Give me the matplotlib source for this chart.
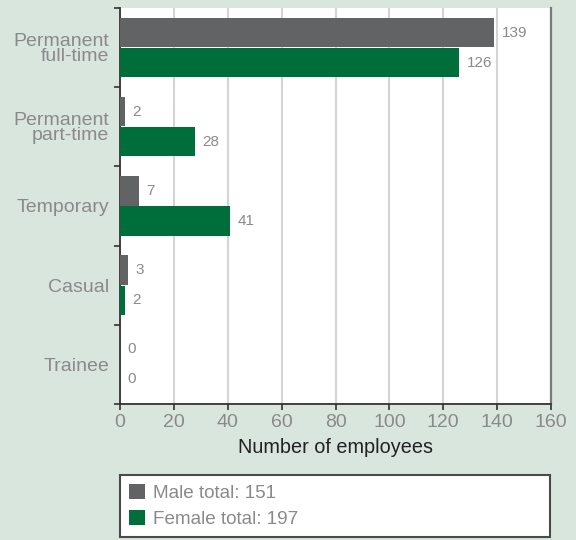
import matplotlib
matplotlib.use("Agg")
import matplotlib.pyplot as plt
from matplotlib.patches import Patch
import numpy as np

categories = ["Permanent\nfull-time", "Permanent\npart-time", "Temporary", "Casual", "Trainee"]
male = [139, 2, 7, 3, 0]
female = [126, 28, 41, 2, 0]
x_ticks = [0, 20, 40, 60, 80, 100, 120, 140, 160]
male_label = "Male total: 151"
female_label = "Female total: 197"

BG = "#d9e6de"
MALE_C = "#626365"
FEMALE_C = "#006e3b"
GREY_TXT = "#8a8a8a"

plt.rcParams["font.family"] = ["Liberation Sans", "DejaVu Sans"]

fig = plt.figure(figsize=(5.76, 5.4), dpi=100, facecolor=BG)
ax = fig.add_axes([120 / 576, 1 - 404 / 540, 431 / 576, 396 / 540])
ax.set_facecolor("white")

y = np.arange(len(categories))
h = 0.37
off = 0.19
ax.barh(y - off, male, height=h, color=MALE_C, zorder=3)
ax.barh(y + off, female, height=h, color=FEMALE_C, zorder=3)

for yi, v in zip(y - off, male):
    ax.text(v + 2.6, yi, str(v), va="center", ha="left", fontsize=11, color=GREY_TXT)
for yi, v in zip(y + off, female):
    ax.text(v + 2.6, yi, str(v), va="center", ha="left", fontsize=11, color=GREY_TXT)

ax.set_xlim(0, 160)
ax.set_ylim(len(categories) - 0.5, -0.5)
ax.set_xticks(x_ticks)
ax.set_xticklabels([str(t) for t in x_ticks])
ax.tick_params(axis="x", length=4, width=1.2, color="#333333", labelsize=14,
               labelcolor=GREY_TXT, pad=3, direction="out")
ax.set_yticks(y)
ax.set_yticklabels(categories, fontsize=14, color=GREY_TXT, linespacing=0.9)
ax.tick_params(axis="y", which="major", length=0, pad=8)
ax.set_yticks(np.arange(-0.5, len(categories)), minor=True)
ax.tick_params(axis="y", which="minor", length=4, width=1.2, color="#333333", direction="out")
for lbl in ax.get_yticklabels():
    lbl.set_horizontalalignment("right")

ax.grid(axis="x", color="#d4d4d4", linewidth=1.5, zorder=0)
ax.set_axisbelow(True)

ax.spines["top"].set_visible(False)
ax.spines["right"].set_color("#7a7a7a")
ax.spines["right"].set_linewidth(1.6)
ax.spines["left"].set_color("#333333")
ax.spines["left"].set_linewidth(1.3)
ax.spines["bottom"].set_color("#333333")
ax.spines["bottom"].set_linewidth(1.3)

ax.set_xlabel("Number of employees", fontsize=14.3, color="#222222", labelpad=5)

handles = [Patch(facecolor=MALE_C, edgecolor="none", label=male_label),
           Patch(facecolor=FEMALE_C, edgecolor="none", label=female_label)]
leg = fig.legend(handles=handles, loc="upper left",
                 bbox_to_anchor=(120 / 576, 1 - 539 / 540, 430 / 576, 64 / 540),
                 mode="expand", frameon=True, fancybox=False, fontsize=13.6,
                 labelcolor=GREY_TXT, handlelength=0.8, handleheight=0.8,
                 handletextpad=0.45, labelspacing=0.42, borderpad=0.5,
                 borderaxespad=0)
leg.get_frame().set_edgecolor("#4a4a4a")
leg.get_frame().set_linewidth(1.5)
leg.get_frame().set_facecolor("white")
leg.get_frame().set_alpha(1)

fig.savefig("out.png", dpi=100, facecolor=BG)
